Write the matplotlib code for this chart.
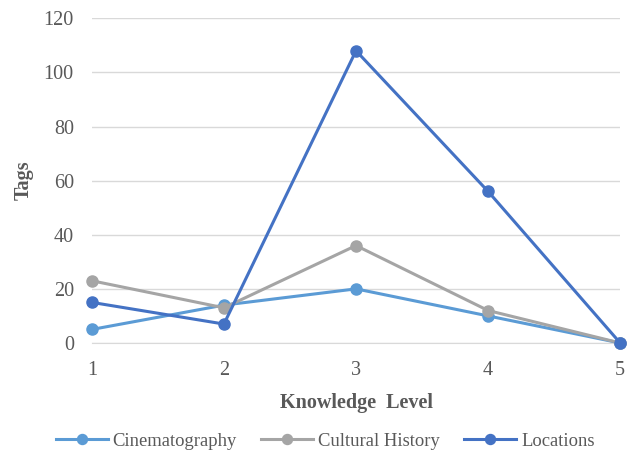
import matplotlib.pyplot as plt

levels = [1, 2, 3, 4, 5]
cinematography = [5, 14, 20, 10, 0]
cultural_history = [23, 13, 36, 12, 0]
locations = [15, 7, 108, 56, 0]

plt.rcParams['font.family'] = ['Liberation Serif', 'DejaVu Serif']

fig = plt.figure(figsize=(6.29, 4.51), dpi=100)
ax = fig.add_axes([0.146, 0.2395, 0.84, 0.72])

series = [
    ('Cinematography', cinematography, '#5B9BD5'),
    ('Cultural History', cultural_history, '#A5A5A5'),
    ('Locations', locations, '#4472C4'),
]
for name, vals, color in series:
    ax.plot(levels, vals, color=color, lw=2.2, marker='o', ms=8,
            label=name, clip_on=False, zorder=3)

ax.set_xlim(1, 5)
ax.set_ylim(0, 120)
ax.set_xticks(levels)
ax.set_yticks(range(0, 121, 20))
ax.grid(axis='y', color='#D9D9D9', lw=1)
ax.set_axisbelow(True)
for s in ['top', 'right', 'left']:
    ax.spines[s].set_visible(False)
ax.spines['bottom'].set_color('#D9D9D9')
ax.tick_params(axis='both', length=0, labelsize=14.5, colors='#595959', pad=13)
ax.set_xlabel('Knowledge  Level', fontsize=14.5, fontweight='bold', color='#595959', labelpad=9)
ax.set_ylabel('Tags', fontsize=14.5, fontweight='bold', color='#595959', labelpad=7)

leg = fig.legend(loc='center', bbox_to_anchor=(0.517, 0.022), ncol=3, frameon=False,
                 fontsize=13.4, handlelength=2.8, columnspacing=1.3, handletextpad=0.26,
                 markerscale=0.9)
for t in leg.get_texts():
    t.set_color('#595959')

fig.savefig('out.png', dpi=100)
